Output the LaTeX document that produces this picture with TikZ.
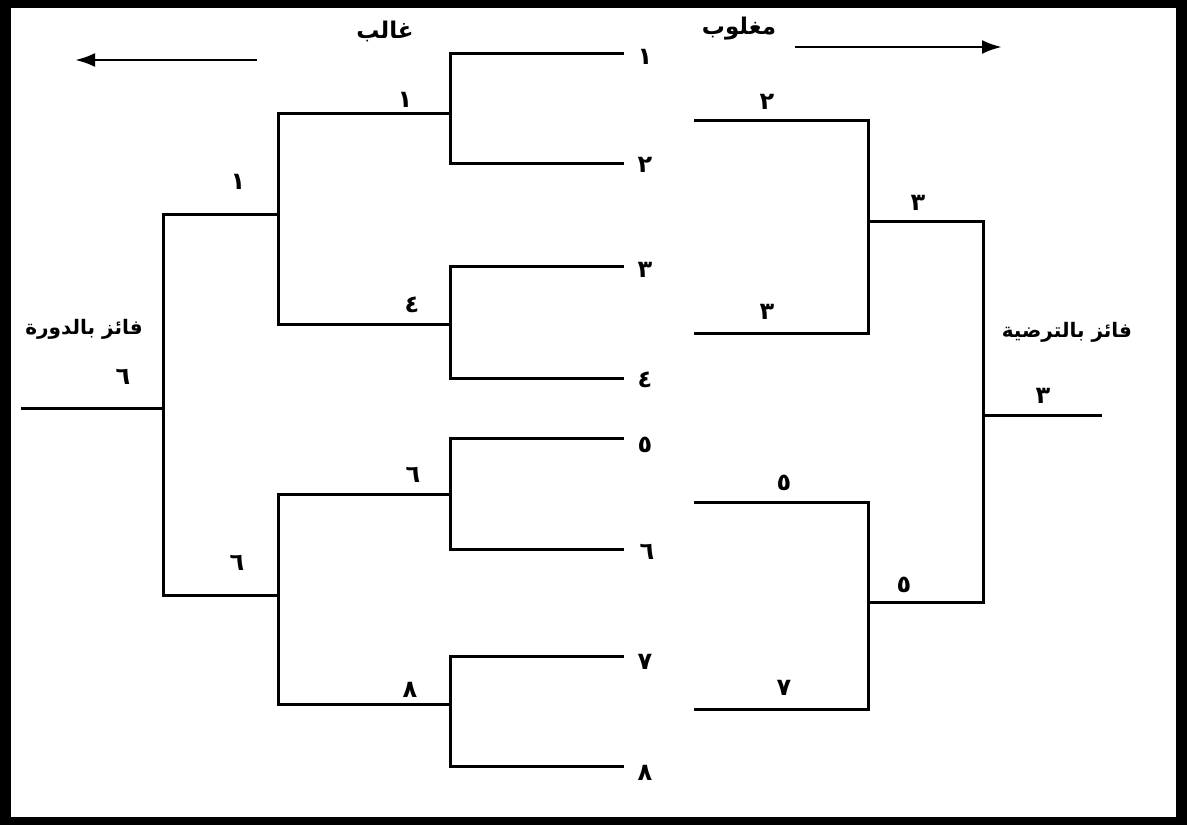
\documentclass[tikz,border=0pt]{standalone}
\usepackage{fontspec}
\usetikzlibrary{arrows.meta}
\TeXXeTstate=1
\newfontfamily\arabicfont[Script=Arabic]{DejaVu Sans}
\begin{document}
\begin{tikzpicture}[x=1pt,y=-1pt,
  bline/.style={line width=3pt,line cap=rect},
  num/.style={font=\arabicfont\bfseries\fontsize{24}{24}\selectfont,inner sep=0pt},
  word/.style={font=\arabicfont\bfseries\fontsize{20}{20}\selectfont,inner sep=0pt},
  head/.style={font=\arabicfont\bfseries\fontsize{23}{23}\selectfont,inner sep=0pt},
  dirarrow/.style={line width=2.8pt,-{Latex[length=20pt,width=14pt]}}]
% frame
\fill[black] (0,0) rectangle (1187,825);
\fill[white] (11,8) rectangle (1176,817);
\useasboundingbox (0,0) rectangle (1187,825);

% winners' bracket: first-round entries
\coordinate (e1) at (622,53);
\coordinate (e2) at (622,163);
\coordinate (e3) at (622,266);
\coordinate (e4) at (622,378);
\coordinate (e5) at (622,438);
\coordinate (e6) at (622,549);
\coordinate (e7) at (622,656);
\coordinate (e8) at (622,766);
% junctions
\coordinate (m12) at (450,113);
\coordinate (m34) at (450,324);
\coordinate (m56) at (450,494);
\coordinate (m78) at (450,704);
\coordinate (q14) at (278,214);
\coordinate (q58) at (278,595);
\coordinate (hub) at (163,408);
\coordinate (champ) at (22,408);

\draw[bline] (e1) -| (m12) |- (e2);
\draw[bline] (e3) -| (m34) |- (e4);
\draw[bline] (e5) -| (m56) |- (e6);
\draw[bline] (e7) -| (m78) |- (e8);
\draw[bline] (m12) -| (q14) |- (m34);
\draw[bline] (m56) -| (q58) |- (m78);
\draw[bline] (q14) -| (hub) |- (q58);
\draw[bline] (hub) -- (champ);

% losers' bracket
\coordinate (l2) at (695,120);
\coordinate (l3) at (695,333);
\coordinate (l5) at (695,502);
\coordinate (l7) at (695,709);
\coordinate (r23) at (868,221);
\coordinate (r57) at (868,602);
\coordinate (cons) at (983,415);
\coordinate (consend) at (1100,415);

\draw[bline] (l2) -| (r23) |- (l3);
\draw[bline] (l5) -| (r57) |- (l7);
\draw[bline] (r23) -| (cons) |- (r57);
\draw[bline] (cons) -- (consend);

% headings and direction arrows
\node[head] (win) at (385,31) {\beginR غالب\endR};
\node[head] (lose) at (739,29) {\beginR مغلوب\endR};
\coordinate (la0) at (257,60);
\coordinate (la1) at (75,60);
\coordinate (ra0) at (795,47);
\coordinate (ra1) at (1002,47);
\draw[dirarrow] (la0) -- (la1);
\draw[dirarrow] (ra0) -- (ra1);

% entry numbers
\node[num] (n1) at (645,57) {١};
\node[num] (n2) at (645,165) {٢};
\node[num] (n3) at (645,270) {٣};
\node[num] (n4) at (645,380) {٤};
\node[num] (n5) at (645,445) {٥};
\node[num] (n6) at (647,552) {٦};
\node[num] (n7) at (645,662) {٧};
\node[num] (n8) at (645,773) {٨};

% winners of each round
\node[num] (w12) at (405,100) {١};
\node[num] (w34) at (412,305) {٤};
\node[num] (w56) at (413,475) {٦};
\node[num] (w78) at (410,690) {٨};
\node[num] (w14) at (238,182) {١};
\node[num] (w58) at (237,563) {٦};

% losers' bracket numbers
\node[num] (x2) at (767,102) {٢};
\node[num] (x3) at (767,312) {٣};
\node[num] (x5) at (784,483) {٥};
\node[num] (x7) at (784,688) {٧};
\node[num] (y3) at (918,203) {٣};
\node[num] (y5) at (904,585) {٥};

% champions
\node[word] (champtxt) at (84,329) {\beginR فائز بالدورة\endR};
\node[num] (champnum) at (123,377) {٦};
\node[word] (constxt) at (1067,332) {\beginR فائز بالترضية\endR};
\node[num] (consnum) at (1043,396) {٣};
\end{tikzpicture}
\end{document}
